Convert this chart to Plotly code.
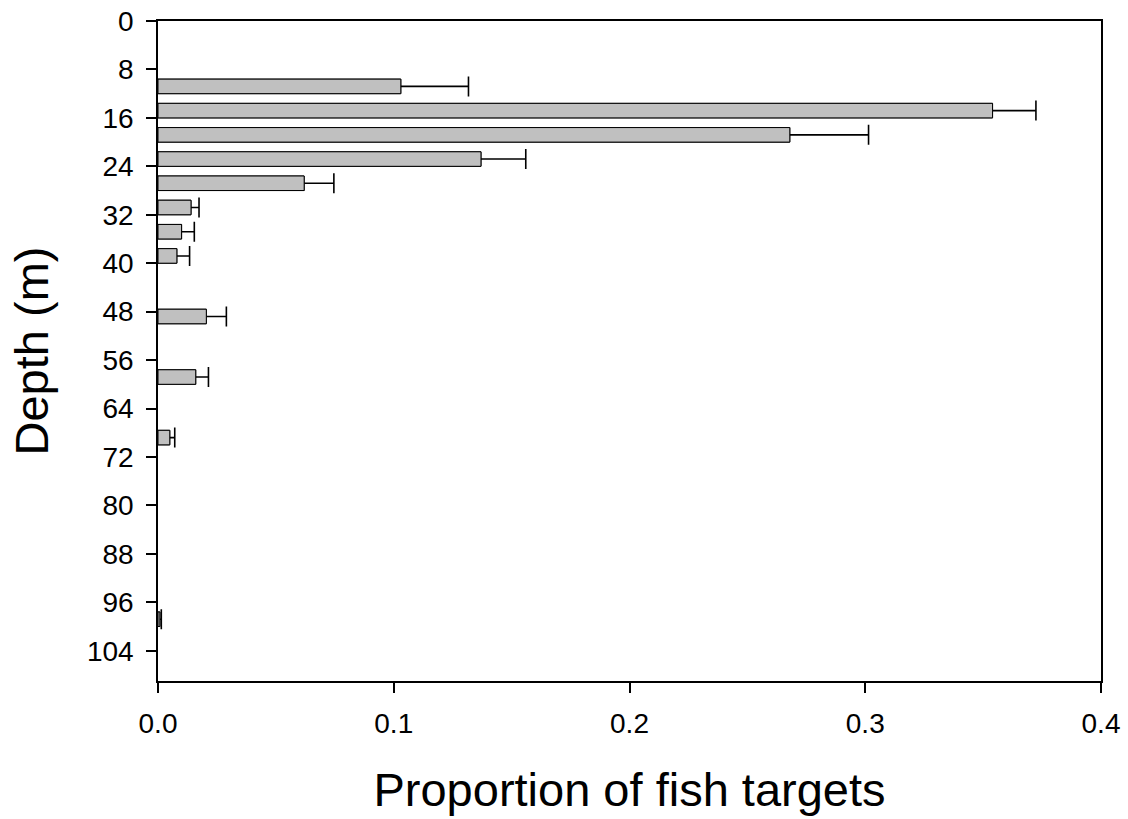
import plotly.graph_objects as go

# Data
depth_m = [10.8, 14.8, 18.8, 22.8, 26.8, 30.8, 34.8, 38.8, 48.8, 58.8, 68.8, 98.8]
proportion = [0.103, 0.354, 0.268, 0.137, 0.062, 0.014, 0.010, 0.008, 0.0205, 0.016, 0.005, 0.0008]
error_plus = [0.0287, 0.0184, 0.0334, 0.019, 0.0126, 0.0034, 0.0054, 0.0054, 0.0085, 0.0054, 0.0021, 0.0006]

y_ticks = list(range(0, 105, 8))
x_ticks = [0.0, 0.1, 0.2, 0.3, 0.4]
x_tick_labels = ["0.0", "0.1", "0.2", "0.3", "0.4"]

FONT = "Liberation Sans, Arial, sans-serif"
BAR_W = 2.4

fig = go.Figure()

# Trace carrying the error bars (minus side runs past the axis and is clipped)
fig.add_trace(go.Bar(
    x=proportion, y=depth_m, orientation="h", width=BAR_W,
    marker=dict(color="#c0c0c0", line=dict(color="black", width=1)),
    error_x=dict(type="data", symmetric=False, array=error_plus,
                 arrayminus=[v + 0.01 for v in proportion],
                 color="black", thickness=1.6, width=10),
    cliponaxis=True, hoverinfo="skip",
))
# Same bars on top to hide the inner part of the error lines
fig.add_trace(go.Bar(
    x=proportion, y=depth_m, orientation="h", width=BAR_W,
    marker=dict(color="#c0c0c0", line=dict(color="black", width=1)),
    cliponaxis=True,
))

fig.update_layout(
    width=1128, height=819,
    margin=dict(l=158, r=27, t=21, b=138, autoexpand=False),
    plot_bgcolor="white", paper_bgcolor="white",
    barmode="overlay", showlegend=False,
    font=dict(family=FONT, color="black"),
)

fig.update_xaxes(
    range=[0, 0.4], tickvals=x_ticks, ticktext=x_tick_labels,
    ticks="outside", ticklen=10, tickwidth=1.5, tickcolor="black",
    showline=True, linewidth=1.5, linecolor="black", mirror=True,
    showgrid=False, zeroline=False, automargin=False,
    tickfont=dict(size=28, family=FONT, color="black"),
    ticklabelstandoff=7, ticklabeloverflow="allow",
    title=dict(text="Proportion of fish targets",
               font=dict(size=47, family=FONT, color="black"), standoff=35),
)
fig.update_yaxes(
    range=[109, 0], tickvals=y_ticks, ticktext=[str(t) for t in y_ticks],
    ticks="outside", ticklen=10, tickwidth=1.5, tickcolor="black",
    showline=True, linewidth=1.5, linecolor="black", mirror=True,
    showgrid=False, zeroline=False, automargin=False,
    tickfont=dict(size=28, family=FONT, color="black"),
    ticklabelstandoff=7, ticklabeloverflow="allow",
    title=dict(text="Depth (m)",
               font=dict(size=47, family=FONT, color="black"), standoff=23),
)

fig.write_html(
    "out.html",
    config={"displayModeBar": False},
    post_script="document.body.style.margin='0';document.body.style.overflow='hidden';",
)
